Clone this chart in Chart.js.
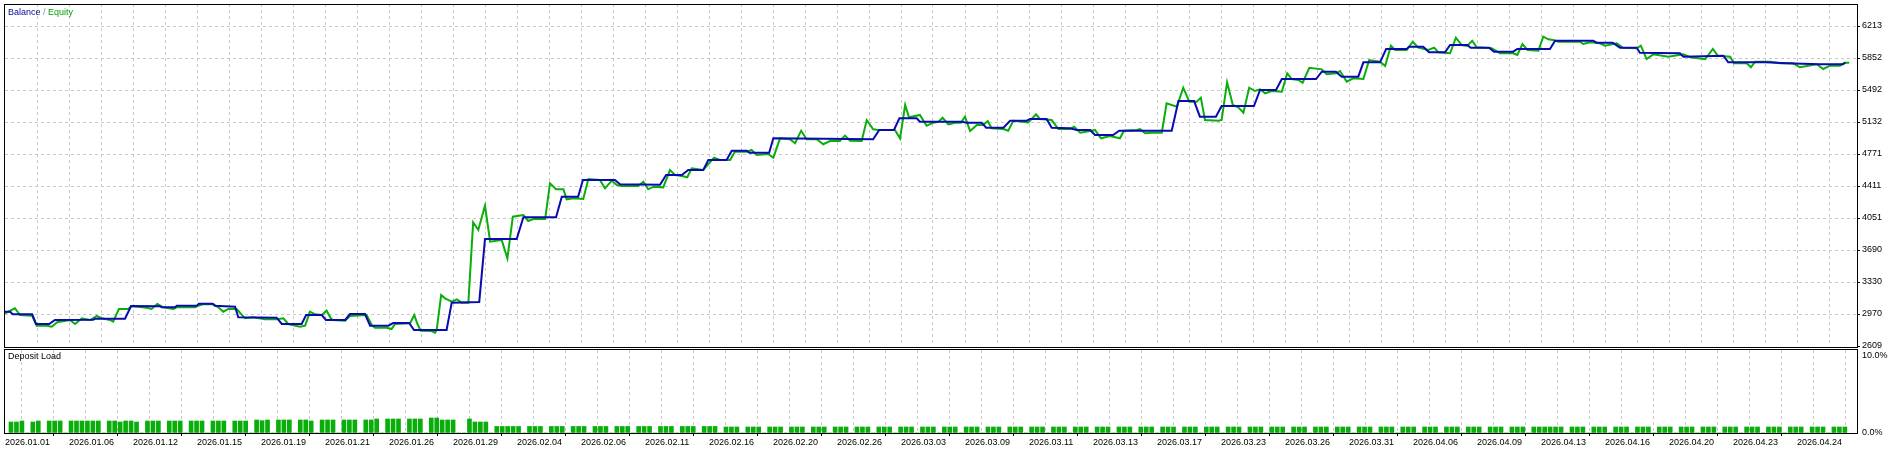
<!DOCTYPE html>
<html><head><meta charset="utf-8">
<script src="https://cdn.jsdelivr.net/npm/chart.js@4.4.1/dist/chart.umd.min.js"></script>
<style>
html,body{margin:0;padding:0;background:#fff;}
#wrap{position:relative;width:1902px;height:450px;overflow:hidden;}
canvas{position:absolute;left:0;top:0;}
</style></head><body>
<div id="wrap"><canvas id="c1" width="1902" height="450"></canvas><canvas id="c2" width="1902" height="450"></canvas></div>
<script>
// ---- data ----
const dateLabels = ['2026.01.01','2026.01.06','2026.01.12','2026.01.15','2026.01.19','2026.01.21','2026.01.26','2026.01.29','2026.02.04','2026.02.06','2026.02.11','2026.02.16','2026.02.20','2026.02.26','2026.03.03','2026.03.09','2026.03.11','2026.03.13','2026.03.17','2026.03.23','2026.03.26','2026.03.31','2026.04.06','2026.04.09','2026.04.13','2026.04.16','2026.04.20','2026.04.23','2026.04.24'];
const yTickValues = [2609,2969.4,3329.8,3690.2,4050.6,4411,4771.4,5131.8,5492.2,5852.6,6213];
const yTickLabels = ['2609','2970','3330','3690','4051','4411','4771','5132','5492','5852','6213'];
const loadTickValues = [0,10];
const loadTickLabels = ['0.0%','10.0%'];

const balanceIdx = [
0,1.6,2.4,8.5,9.7,13.8,15.6,27.6,28.1,37.5,
39.4,48.4,49,53.1,53.7,59.9,60.6,64.9,65.6,71.9,
72.9,84.9,86.5,92.7,94.1,99,100.3,106.3,107.8,112.5,
114.1,119.8,121.3,126.3,127.8,138,139.6,148.2,150,159.9,
162,172.2,174,179.1,180.6,190.6,192.2,204.7,206.6,211.5,
213.5,218.2,219.8,225.5,227.1,231.8,232.6,238.8,240.1,271.3,
273.2,277.8,279.5,284.9,285.9,299,300.5,305.2,306.6,312,
314.1,319.3,320.3,325.5,327.1,332.8,334.9,339.1,340.6,346.3,
348.2,364.6,366.7,371.6,373.4,378.4,380.2,390.3,392.2,397.2,
399,409.7,411.5,415.9,417.7,422.9,424.5,429.7,431.6,438,
438.8,443.2,445,450,451.6,457,458,463.8,465.3,471.3,
472.6,482.8,484.4,496.3,497.4,502.4,504.7,509.9,510.9,523.4,
524.5,537,538.5,550.3,556.6,567,574.3,575.1];
const balanceVal = [
2995,2995,2966,2966,2857,2857,2902,2905,2917,2917,
3060,3056,3045,3045,3063,3063,3085,3085,3063,3052,
2932,2928,2857,2857,2958,2958,2902,2902,2969,2969,
2838,2838,2868,2868,2789,2789,3097,3105,3814,3814,
4059,4059,4291,4291,4479,4479,4430,4426,4535,4535,
4591,4591,4704,4704,4809,4809,4786,4786,4948,4937,
5042,5042,5174,5174,5135,5135,5124,5124,5068,5068,
5146,5146,5166,5166,5068,5061,5042,5042,4985,4985,
5034,5034,5368,5368,5192,5192,5312,5312,5492,5492,
5616,5616,5698,5698,5642,5642,5804,5804,5954,5954,
5980,5980,5917,5917,5999,5999,5969,5969,5924,5924,
5954,5954,6047,6047,6025,6025,5969,5969,5912,5906,
5867,5879,5804,5804,5793,5782,5782,5800];

const equityIdx = [
0,3.1,4.7,8.5,9.9,13,14.6,16.3,20.3,21.9,
24,26.6,28.7,30.2,32.8,33.8,35.6,38.5,39.6,44.3,
45.8,47.6,49.5,52.6,53.7,59.4,60.4,62,65.1,66.7,
68.2,69.8,72.4,75,77.6,81.3,84.9,87,88.5,92.2,
93.8,95.3,96.9,99,100.5,101.8,102.4,106.3,107.8,113,
114.6,115.6,119.3,120.8,121.9,126.6,127.9,128.8,129.9,133.3,
134.4,134.9,136.3,137.5,139.6,141.2,142.7,144.8,146.3,147.9,
150,151.6,155.2,157,158.7,162,163.5,165.1,168.8,170.3,
172.2,174.5,175.5,177.6,180.7,182.3,185.9,187.5,189.6,191.2,
192.7,197.9,199.5,201,202.6,205.7,207.8,209.4,211.5,213.2,
214.6,218.2,221.6,223.4,226.6,228.1,231.8,233.3,234.9,238.5,
240.1,242.2,245.3,246.9,248.8,250.5,253.7,255.7,257.8,260.9,
262.5,264.1,267.7,269.3,271.3,272.9,278.1,279.7,281.3,282.5,
285.9,288,290.1,291.7,293,294.8,296.9,298.7,300,301.6,
303.7,305.7,307.1,308.3,312,313.5,315.1,319.8,322.2,323.4,
327.1,329.2,332.8,334.1,336,339.1,340.6,342.5,345.3,348.4,
349.7,353.7,354.7,356.3,358.3,361.5,363,366.2,368.2,370.1,
372.4,373.7,375,379.2,380.2,381.9,383.7,385.4,387,388.8,
390.6,392.2,393.8,395.8,399,400.7,402.1,404.2,405.5,407.6,
411.5,413,415.9,417.2,419.3,421.3,424.5,426.3,429.7,431.3,
433.1,434.4,438,439.9,441.7,444.8,446.6,447.9,451.6,453.4,
455.2,456.9,458.5,459.9,464.6,467.2,471.3,472.6,474.2,475.8,
479.2,480.7,482.3,483.8,485.4,492.2,493.2,495.3,498.4,500,
503.7,505.5,509.9,511.2,513,515.1,519.8,524.5,526.6,531.3,
533.7,535.2,539.1,540.3,544.3,545.6,546.9,551.6,554.7,558.8,
560.9,566.2,568.2,570.3,573.4,575,576.3];
const equityVal = [
2977,3034,2958,2950,2838,2838,2826,2876,2902,2857,
2921,2902,2947,2921,2902,2883,3026,3026,3060,3040,
3026,3082,3045,3026,3045,3045,3063,3082,3079,3045,
2995,3026,3026,2921,2932,2910,2910,2921,2857,2826,
2838,2995,2966,2958,3007,2921,2902,2894,2947,2958,
2846,2815,2815,2800,2857,2865,2958,2865,2781,2778,
2759,2789,3183,3146,3108,3135,3097,3097,4002,3916,
4189,3784,3803,3597,4065,4084,4017,4039,4039,4441,
4374,4374,4261,4273,4265,4490,4479,4385,4471,4422,
4411,4411,4459,4374,4403,4396,4591,4535,4524,4509,
4610,4591,4730,4704,4704,4797,4797,4817,4760,4771,
4730,4948,4937,4892,5034,4937,4937,4881,4918,4918,
4978,4921,4918,5154,5050,5042,5042,4948,5323,5185,
5211,5090,5124,5135,5180,5106,5124,5124,5192,5030,
5098,5098,5143,5061,5053,5034,5146,5128,5219,5166,
5154,5053,5053,5079,5011,5030,5042,4948,4974,4948,
5034,5042,5053,5005,5011,5011,5342,5304,5518,5360,
5360,5406,5154,5146,5154,5579,5323,5297,5237,5518,
5481,5500,5455,5481,5473,5680,5616,5605,5574,5743,
5725,5669,5680,5706,5586,5624,5616,5830,5811,5762,
5991,5943,5943,6036,5969,5943,5969,5917,5906,6081,
5999,5988,6047,5973,5962,5906,5906,5886,6010,5943,
5935,6093,6063,6055,6036,6036,6010,6029,6018,5991,
6018,5969,5962,5991,5841,5894,5867,5894,5861,5838,
5954,5879,5867,5793,5793,5748,5811,5811,5793,5793,
5748,5782,5729,5766,5766,5800,5800];

// deposit load (%) per time slot
const depositLoad = [
1.43,1.43,1.56,0,1.43,1.56,0,1.56,1.56,1.56,0,1.56,1.56,1.56,1.56,1.56,1.56,0,1.56,1.56,
1.43,1.56,1.56,1.43,0,1.56,1.56,1.56,0,1.56,1.56,1.56,0,1.56,1.56,1.56,0,1.56,1.56,1.56,
0,1.56,1.56,1.56,0,1.69,1.6,1.69,0,1.69,1.69,1.69,0,1.69,1.69,1.56,0,1.69,1.69,1.69,
0,1.69,1.69,1.69,0,1.69,1.69,1.82,0,1.82,1.82,1.82,0,1.82,1.82,1.82,0,1.95,1.95,1.69,
1.69,1.69,0,0,1.82,1.43,1.43,1.43,0,0.85,0.85,0.85,0.85,0.85,0,0.85,0.85,0.85,0,0.85,
0.85,0.85,0,0.85,0.85,0.85,0,0.85,0.85,0.85,0,0.85,0.85,0.85,0,0.85,0.85,0.85,0,0.85,
0.85,0.85,0,0.85,0.85,0.85,0,0.85,0.85,0.85,0,0.78,0.78,0.78,0,0.78,0.78,0.78,0,0.78,
0.78,0.78,0,0.78,0.78,0.78,0,0.78,0.78,0.78,0,0.78,0.78,0.78,0,0.78,0.78,0.78,0,0.78,
0.78,0.78,0,0.78,0.78,0.78,0,0.78,0.78,0.78,0,0.78,0.78,0.78,0,0.78,0.78,0.78,0,0.78,
0.78,0.78,0,0.78,0.78,0.78,0,0.78,0.78,0.78,0,0.78,0.78,0.78,0,0.78,0.78,0.78,0,0.78,
0.78,0.78,0,0.78,0.78,0.78,0,0.78,0.78,0.78,0,0.78,0.78,0.78,0,0.78,0.78,0.78,0,0.78,
0.78,0.78,0,0.78,0.78,0.78,0,0.78,0.78,0.78,0,0.78,0.78,0.78,0,0.78,0.78,0.78,0,0.78,
0.78,0.78,0,0.78,0.78,0.78,0,0.78,0.78,0.78,0,0.78,0.78,0.78,0,0.78,0.78,0.78,0,0.78,
0.78,0.78,0,0.78,0.78,0.78,0,0.78,0.78,0.78,0,0.78,0.78,0.78,0,0.78,0.78,0.78,0,0.78,
0.78,0.78,0.78,0.78,0.78,0,0.78,0.78,0.78,0,0.78,0.78,0.78,0,0.78,0.78,0.78,0,0.78,0.78,
0.78,0,0.78,0.78,0.78,0,0.78,0.78,0.78,0,0.78,0.78,0.78,0,0.78,0.78,0.78,0,0.78,0.78,
0.78,0,0.78,0.78,0.78,0,0.78,0.78,0.78,0,0.78,0.78,0.78,0,0.78,0.78,0.78];

// ---- axis setup ----
const X_MAX = 578.75;             // deal-index extent of the axis
const SLOT_START = 1.875, SLOT_STEP = 1.7056; // load time-slot -> deal index
const Y_MIN = 2609, Y_MAX = 6460.8;
const LOAD_MAX = 10.78;
const xTicks = []; for (let v = 0; v <= 570; v += 10) xTicks.push(v);

const FONT = {family: '"Liberation Sans", Arial, sans-serif', size: 9};
const GRID = '#c8c8c8';
const BLUE = '#0a0ab2';
const GREEN = '#0aae0a';

function zeroPad(s){ s.paddingLeft = 0; s.paddingRight = 0; s.paddingTop = 0; s.paddingBottom = 0; }

const frame = (topExtra, bottomExtra) => ({
  id: 'frame',
  afterDraw(chart) {
    const a = chart.chartArea, ctx = chart.ctx;
    ctx.save();
    ctx.strokeStyle = '#000'; ctx.lineWidth = 1; ctx.setLineDash([]);
    ctx.strokeRect(a.left - 0.5, a.top + topExtra, a.right - a.left + 1, a.bottom - a.top + bottomExtra);
    ctx.restore();
  }
});

// ---- top chart: Balance / Equity ----
new Chart(document.getElementById('c1'), {
  type: 'line',
  data: {
    datasets: [
      {label: 'Balance', data: balanceIdx.map((x, i) => ({x, y: balanceVal[i]})), borderColor: BLUE, borderWidth: 2, pointRadius: 0, tension: 0, fill: false},
      {label: 'Equity', data: equityIdx.map((x, i) => ({x, y: equityVal[i]})), borderColor: GREEN, borderWidth: 2, pointRadius: 0, tension: 0, fill: false}
    ]
  },
  options: {
    responsive: false, animation: false, events: [],
    layout: {padding: {left: 5, top: 4, right: 0, bottom: 104}},
    plugins: {legend: {display: false}, tooltip: {enabled: false}},
    scales: {
      x: {
        type: 'linear', min: 0, max: X_MAX,
        afterBuildTicks: s => { s.ticks = xTicks.map(v => ({value: v})); },
        afterFit: s => { s.height = 0; zeroPad(s); },
        ticks: {display: false},
        grid: {color: c => (c.tick && c.tick.value === 0) ? 'rgba(0,0,0,0)' : GRID, drawTicks: false},
        border: {display: false, dash: [3, 3]}
      },
      y: {
        position: 'right', min: Y_MIN, max: Y_MAX,
        afterBuildTicks: s => { s.ticks = yTickValues.map(v => ({value: v})); },
        afterFit: s => { s.width = 45; zeroPad(s); },
        ticks: {font: FONT, color: '#000', padding: 2, callback: (v, i) => yTickLabels[i]},
        grid: {color: c => (c.tick && c.tick.value === Y_MIN) ? 'rgba(0,0,0,0)' : GRID, drawTicks: true, tickLength: 3, tickColor: '#000', tickBorderDash: []},
        border: {display: false, dash: [3, 3]}
      }
    }
  },
  plugins: [frame(0.5, 1), {
    id: 'caption',
    afterDraw(chart) {
      const ctx = chart.ctx;
      ctx.save();
      ctx.font = '9px "Liberation Sans", Arial, sans-serif';
      ctx.textBaseline = 'middle';
      let x = 8; const y = 13;
      ctx.fillStyle = '#0a0a96'; ctx.fillText('Balance', x, y); x += ctx.measureText('Balance').width;
      ctx.fillStyle = '#909090'; ctx.fillText(' / ', x, y); x += ctx.measureText(' / ').width;
      ctx.fillStyle = '#0aa00a'; ctx.fillText('Equity', x, y);
      ctx.restore();
    }
  }]
});

// ---- bottom chart: Deposit Load ----
new Chart(document.getElementById('c2'), {
  type: 'bar',
  data: {
    datasets: [{
      label: 'Deposit Load',
      data: depositLoad.map((v, k) => ({x: SLOT_START + k * SLOT_STEP, y: v})),
      backgroundColor: GREEN, borderWidth: 0, barThickness: 4, grouped: false
    }]
  },
  options: {
    responsive: false, animation: false, events: [],
    layout: {padding: {left: 5, top: 350, right: 0, bottom: 0}},
    plugins: {legend: {display: false}, tooltip: {enabled: false}},
    scales: {
      x: {
        type: 'linear', min: 0, max: X_MAX, offset: false,
        afterBuildTicks: s => { s.ticks = xTicks.map(v => ({value: v})); },
        afterFit: s => { s.height = 17; zeroPad(s); },
        ticks: {font: FONT, color: '#000', align: 'start', padding: 1, maxRotation: 0, autoSkip: false,
                callback: (v, i) => (i % 2 === 0 ? (dateLabels[i / 2] || '') : '')},
        grid: {color: c => (c.tick && c.tick.value === 0) ? 'rgba(0,0,0,0)' : GRID, drawTicks: true, tickLength: 3,
               tickColor: c => (c.index % 2 === 0 ? '#000' : 'rgba(0,0,0,0)'), tickBorderDash: []},
        border: {display: false, dash: [3, 3]}
      },
      y: {
        position: 'right', min: 0, max: LOAD_MAX,
        afterBuildTicks: s => { s.ticks = loadTickValues.map(v => ({value: v})); },
        afterFit: s => { s.width = 45; zeroPad(s); },
        ticks: {font: FONT, color: '#000', padding: 5, callback: (v, i) => loadTickLabels[i]},
        grid: {drawOnChartArea: false, drawTicks: false},
        border: {display: false}
      }
    }
  },
  plugins: [{
    id: 'bg',
    beforeDraw(chart) {
      const ctx = chart.ctx;
      ctx.save(); ctx.fillStyle = '#fff';
      ctx.fillRect(0, chart.chartArea.top - 2, chart.width, chart.height);
      ctx.restore();
    }
  }, frame(-0.5, 1), {
    id: 'caption2',
    afterDraw(chart) {
      const ctx = chart.ctx;
      ctx.save();
      ctx.font = '9px "Liberation Sans", Arial, sans-serif';
      ctx.textBaseline = 'middle'; ctx.fillStyle = '#000';
      ctx.fillText('Deposit Load', 8, chart.chartArea.top + 7);
      ctx.restore();
    }
  }]
});
</script>
</body></html>
